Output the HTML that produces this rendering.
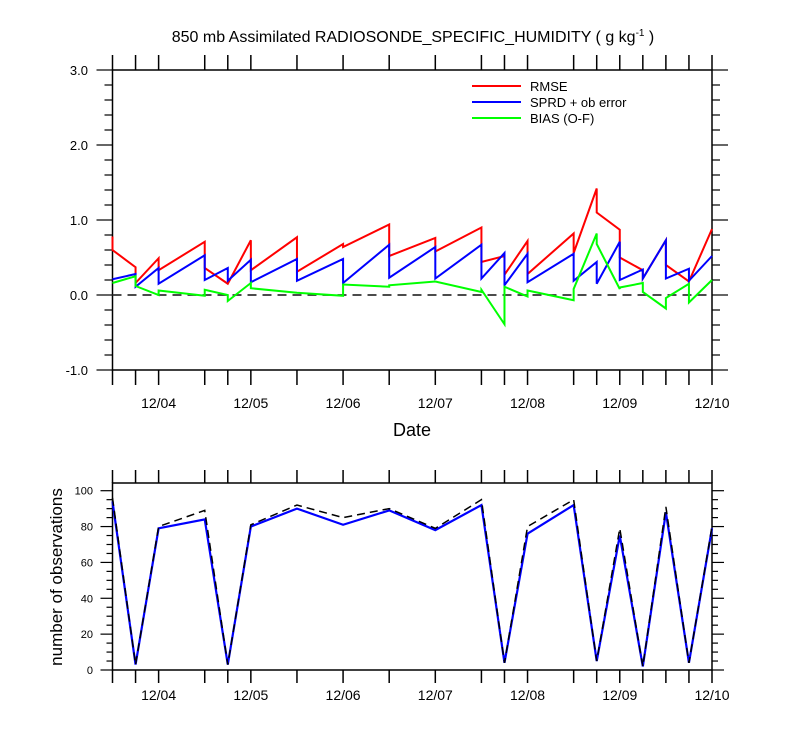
<!DOCTYPE html>
<html><head><meta charset="utf-8"><style>
body{margin:0;background:#fff;}
svg text{font-family:"Liberation Sans",sans-serif;fill:#000;}
</style></head><body>
<svg id="c" width="800" height="750" xmlns="http://www.w3.org/2000/svg"></svg>
<script>
const hours=[0,6,12,24,30,36,48,60,72,84,96,102,108,120,126,132,138,144,150,156];
const rmseEnd=[0.78,0.37,0.49,0.71,0.15,0.73,0.77,0.68,0.94,0.76,0.90,0.52,0.72,0.82,1.42,0.87,0.33,0.73,0.18,0.88];
const rmseStart=[0.60,0.16,0.33,0.36,0.15,0.33,0.31,0.64,0.52,0.58,0.44,0.27,0.28,0.56,1.10,0.50,0.22,0.40,0.18,0.88];
const sprdEnd=[0.21,0.28,0.36,0.53,0.36,0.47,0.48,0.48,0.67,0.64,0.67,0.56,0.55,0.55,0.44,0.71,0.34,0.73,0.35,0.52];
const sprdStart=[0.21,0.11,0.15,0.20,0.19,0.17,0.19,0.16,0.23,0.22,0.22,0.13,0.17,0.19,0.15,0.20,0.22,0.22,0.19,0.52];
const biasEnd=[0.16,0.25,0.00,-0.01,0.00,0.16,0.03,-0.01,0.11,0.18,0.04,-0.39,-0.02,-0.07,0.82,0.08,0.16,-0.18,0.15,0.20];
const biasStart=[0.16,0.12,0.06,0.07,-0.08,0.09,0.03,0.14,0.13,0.18,0.07,0.11,0.06,0.08,0.68,0.10,0.04,-0.04,-0.10,0.20];
const obsUsed=[94,3,79,84,3,80,90,81,89,78,92,4,76,92,5,75,2,88,4,79];
const obsTotal=[96,3,80,89,3,81,92,85,90,79,95,4,80,95,5,79,2,91,4,80];
const dayLabels=["12/04","12/05","12/06","12/07","12/08","12/09","12/10"];
const dayHours=[12,36,60,84,108,132,156];
const topTicks=[-1,0,1,2,3];
const botTicks=[0,20,40,60,80,100];

const svg=document.getElementById('c');
const NS='http://www.w3.org/2000/svg';
function el(t,a,p){const e=document.createElementNS(NS,t);for(const k in a)e.setAttribute(k,a[k]);(p||svg).appendChild(e);return e;}
const X0=112.5,X1=712;
const x=h=>X0+(X1-X0)*h/156;
const yT=v=>295-75*v;
const yB=v=>670-1.793*v;

let f=el('rect',{x:X0,y:70,width:X1-X0,height:300,fill:'none',stroke:'#000','stroke-width':1.5});

let f2=el('rect',{x:X0,y:483,width:X1-X0,height:187,fill:'none',stroke:'#000','stroke-width':1.5});


hours.forEach(h=>{
  const xx=x(h);
  el('line',{x1:xx,x2:xx,y1:70,y2:55,stroke:'#000','stroke-width':1.5});
  el('line',{x1:xx,x2:xx,y1:370,y2:385,stroke:'#000','stroke-width':1.5});
  el('line',{x1:xx,x2:xx,y1:483,y2:470,stroke:'#000','stroke-width':1.5});
  el('line',{x1:xx,x2:xx,y1:670,y2:683,stroke:'#000','stroke-width':1.5});
});
dayHours.forEach((h,i)=>{
  const t1=el('text',{x:x(h),y:408,'font-size':14,'text-anchor':'middle'});t1.textContent=dayLabels[i];
  
  const t2=el('text',{x:x(h),y:700,'font-size':14,'text-anchor':'middle'});t2.textContent=dayLabels[i];
  
});
for(let v=-1;v<=3.001;v+=0.2){
  const major=Math.abs(v-Math.round(v))<1e-6;const L=major?16:8;const yy=yT(v);
  el('line',{x1:X0,x2:X0-L,y1:yy,y2:yy,stroke:'#000','stroke-width':1.2});
  el('line',{x1:X1,x2:X1+L,y1:yy,y2:yy,stroke:'#000','stroke-width':1.2});
}
topTicks.forEach(v=>{
  const t=el('text',{x:88,y:yT(v)+5,'font-size':13,'text-anchor':'end'});t.textContent=v.toFixed(1);
  
});
for(let v=0;v<=100;v+=5){
  const major=v%20===0;const L=major?12:6;const yy=yB(v);
  el('line',{x1:X0,x2:X0-L,y1:yy,y2:yy,stroke:'#000','stroke-width':1.2});
  el('line',{x1:X1,x2:X1+L,y1:yy,y2:yy,stroke:'#000','stroke-width':1.2});
}
botTicks.forEach(v=>{
  const t=el('text',{x:93,y:yB(v)+4,'font-size':11,'text-anchor':'end'});t.textContent=v;
  
});
let z=el('line',{x1:X0,x2:X1,y1:yT(0),y2:yT(0),stroke:'#333','stroke-width':1.8,'stroke-dasharray':'9,6'});


function saw(endA,startA){
  let d='';hours.forEach((h,i)=>{d+=(i?'L':'M')+x(h)+','+yT(endA[i])+'L'+x(h)+','+yT(startA[i]);});return d;
}
let p1=el('path',{d:saw(rmseEnd,rmseStart),fill:'none',stroke:'#f00','stroke-width':2});

let p2=el('path',{d:saw(sprdEnd,sprdStart),fill:'none',stroke:'#00f','stroke-width':2});

let p3=el('path',{d:saw(biasEnd,biasStart),fill:'none',stroke:'#0f0','stroke-width':2});


function line(arr){return hours.map((h,i)=>(i?'L':'M')+x(h)+','+yB(arr[i])).join('');}
let b1=el('path',{d:line(obsUsed),fill:'none',stroke:'#00f','stroke-width':2.2});

let b2=el('path',{d:line(obsTotal),fill:'none',stroke:'#000','stroke-width':1.5,'stroke-dasharray':'8,5'});


[['RMSE','#f00',86],['SPRD + ob error','#00f',102],['BIAS (O-F)','#0f0',118]].forEach(r=>{
  const l=el('line',{x1:472,x2:521,y1:r[2],y2:r[2],stroke:r[1],'stroke-width':2});
  
  const t=el('text',{x:530,y:r[2]+5,'font-size':13});t.textContent=r[0];
  
});
</script>
<script>
const s2=document.getElementById('c');
const N2='http://www.w3.org/2000/svg';
const tt=document.createElementNS(N2,'text');
tt.setAttribute('x','413');tt.setAttribute('y','42');tt.setAttribute('font-size','16');tt.setAttribute('text-anchor','middle');


tt.innerHTML='850 mb Assimilated RADIOSONDE_SPECIFIC_HUMIDITY ( g kg<tspan dy="-6" font-size="10">-1</tspan><tspan dy="6"> )</tspan>';
s2.appendChild(tt);
const dt=document.createElementNS(N2,'text');
dt.setAttribute('x','412');dt.setAttribute('y','436');dt.setAttribute('font-size','18');dt.setAttribute('text-anchor','middle');


dt.textContent='Date';s2.appendChild(dt);
const yt=document.createElementNS(N2,'text');
yt.setAttribute('transform','translate(62,577) rotate(-90)');yt.setAttribute('font-size','17');yt.setAttribute('text-anchor','middle');


yt.textContent='number of observations';s2.appendChild(yt);
</script>
</body></html>
